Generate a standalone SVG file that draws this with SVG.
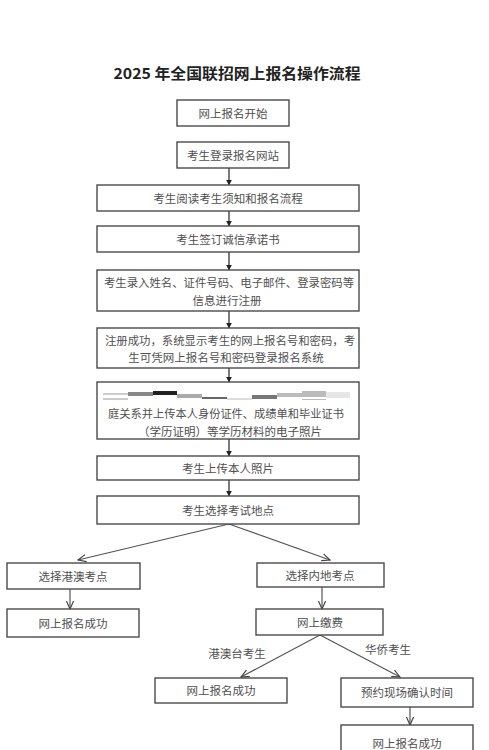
<svg xmlns="http://www.w3.org/2000/svg" width="489" height="750" viewBox="0 0 489 750">
<defs>
<style>
.box{fill:#fff;stroke:#4a4a4a;stroke-width:1.4}
.t{font-family:"Noto Sans CJK SC","Noto Sans",sans-serif;font-size:11.5px;fill:#505050;text-anchor:middle;dominant-baseline:central}
.title{font-family:"Noto Sans CJK SC","Liberation Sans",sans-serif;font-size:15px;font-weight:bold;fill:#222;text-anchor:middle;dominant-baseline:central}
.c{fill:none;stroke:#333;stroke-width:1.3}
.c2{fill:none;stroke:#555;stroke-width:1.2}
</style>
<marker id="ah" viewBox="0 0 10 10" refX="9" refY="5" markerWidth="6" markerHeight="6" orient="auto" markerUnits="userSpaceOnUse">
<path d="M0,0 L10,5 L0,10 z" fill="#222"/>
</marker>
<marker id="av" viewBox="0 0 10 10" refX="9" refY="5" markerWidth="9" markerHeight="9" orient="auto" markerUnits="userSpaceOnUse">
<path d="M0,1 L9,5 L0,9" fill="none" stroke="#444" stroke-width="1.3"/>
</marker>
</defs>
<rect width="489" height="750" fill="#fff"/>
<text class="title" x="237" y="72" textLength="247" lengthAdjust="spacingAndGlyphs">2025 年全国联招网上报名操作流程</text>

<g id="connectors">
<line class="c" x1="229" y1="168" x2="229" y2="185" marker-end="url(#ah)"/>
<line class="c" x1="229" y1="211" x2="229" y2="226" marker-end="url(#ah)"/>
<line class="c" x1="229" y1="252" x2="229" y2="270" marker-end="url(#ah)"/>
<line class="c" x1="229" y1="311" x2="229" y2="328" marker-end="url(#ah)"/>
<line class="c" x1="229" y1="368" x2="229" y2="382" marker-end="url(#ah)"/>
<line class="c" x1="229" y1="439" x2="229" y2="456" marker-end="url(#ah)"/>
<line class="c" x1="229" y1="480" x2="229" y2="496" marker-end="url(#ah)"/>
<line class="c2" x1="229" y1="524" x2="78" y2="560" marker-end="url(#av)"/>
<line class="c2" x1="229" y1="524" x2="330" y2="560" marker-end="url(#av)"/>
<line class="c2" x1="70" y1="589" x2="70" y2="609" marker-end="url(#av)"/>
<line class="c2" x1="322" y1="587" x2="322" y2="609" marker-end="url(#av)"/>
<line class="c2" x1="320" y1="635" x2="241" y2="677" marker-end="url(#av)"/>
<line class="c2" x1="320" y1="635" x2="400" y2="677" marker-end="url(#av)"/>
<line class="c2" x1="410" y1="707" x2="410" y2="725" marker-end="url(#av)"/>
<text class="t" x="237" y="653">港澳台考生</text>
<text class="t" x="388" y="649">华侨考生</text>
</g>

<g id="n1"><rect class="box" x="177" y="100" width="112" height="26"/><text class="t" x="233" y="113">网上报名开始</text></g>
<g id="n2"><rect class="box" x="177" y="142" width="112" height="26"/><text class="t" x="233" y="155">考生登录报名网站</text></g>
<g id="n3"><rect class="box" x="97" y="185" width="262" height="26"/><text class="t" x="228" y="198">考生阅读考生须知和报名流程</text></g>
<g id="n4"><rect class="box" x="97" y="226" width="262" height="26"/><text class="t" x="228" y="239">考生签订诚信承诺书</text></g>
<g id="n5"><rect class="box" x="97" y="270" width="262" height="41"/><text class="t" x="229" y="282" textLength="250" lengthAdjust="spacingAndGlyphs">考生录入姓名、证件号码、电子邮件、登录密码等</text><text class="t" x="227" y="300">信息进行注册</text></g>
<g id="n6"><rect class="box" x="97" y="328" width="262" height="40"/><text class="t" x="230" y="340" textLength="250" lengthAdjust="spacingAndGlyphs">注册成功，系统显示考生的网上报名号和密码，考</text><text class="t" x="226" y="357">生可凭网上报名号和密码登录报名系统</text></g>
<g id="n7"><rect class="box" x="97" y="382" width="262" height="57"/>
<g id="redaction">
<rect x="103" y="393" width="25" height="2" fill="#ccc"/><rect x="103" y="398" width="25" height="2" fill="#ccc"/>
<rect x="128" y="392" width="25" height="4" fill="#888"/>
<rect x="153" y="391" width="24" height="4" fill="#222"/>
<rect x="177" y="394" width="25" height="4" fill="#aaa"/>
<rect x="202" y="397" width="25" height="2" fill="#666"/>
<rect x="227" y="398" width="25" height="2" fill="#ddd"/>
<rect x="252" y="395" width="25" height="4" fill="#777"/>
<rect x="277" y="393" width="25" height="4" fill="#bbb"/>
<rect x="302" y="391" width="24" height="6" fill="#bbb"/><rect x="302" y="399" width="24" height="1" fill="#bbb"/>
<rect x="326" y="392" width="24" height="6" fill="#e6e6e6"/>
</g>
<text class="t" x="226" y="413" textLength="236" lengthAdjust="spacingAndGlyphs">庭关系并上传本人身份证件、成绩单和毕业证书</text><text class="t" x="230" y="431">（学历证明）等学历材料的电子照片</text></g>
<g id="n8"><rect class="box" x="97" y="456" width="262" height="24"/><text class="t" x="228" y="468">考生上传本人照片</text></g>
<g id="n9"><rect class="box" x="97" y="496" width="262" height="28"/><text class="t" x="228" y="510">考生选择考试地点</text></g>
<g id="n10"><rect class="box" x="7" y="563" width="133" height="26"/><text class="t" x="73" y="576">选择港澳考点</text></g>
<g id="n11"><rect class="box" x="7" y="609" width="132" height="28"/><text class="t" x="73" y="623">网上报名成功</text></g>
<g id="n12"><rect class="box" x="257" y="563" width="127" height="24"/><text class="t" x="320" y="575">选择内地考点</text></g>
<g id="n13"><rect class="box" x="256" y="609" width="127" height="26"/><text class="t" x="320" y="622">网上缴费</text></g>
<g id="n14"><rect class="box" x="155" y="678" width="132" height="25"/><text class="t" x="221" y="690">网上报名成功</text></g>
<g id="n15"><rect class="box" x="341" y="678" width="132" height="29"/><text class="t" x="407" y="692">预约现场确认时间</text></g>
<g id="n16"><rect class="box" x="341" y="725" width="132" height="30"/><text class="t" x="407" y="743">网上报名成功</text></g>
</svg>
